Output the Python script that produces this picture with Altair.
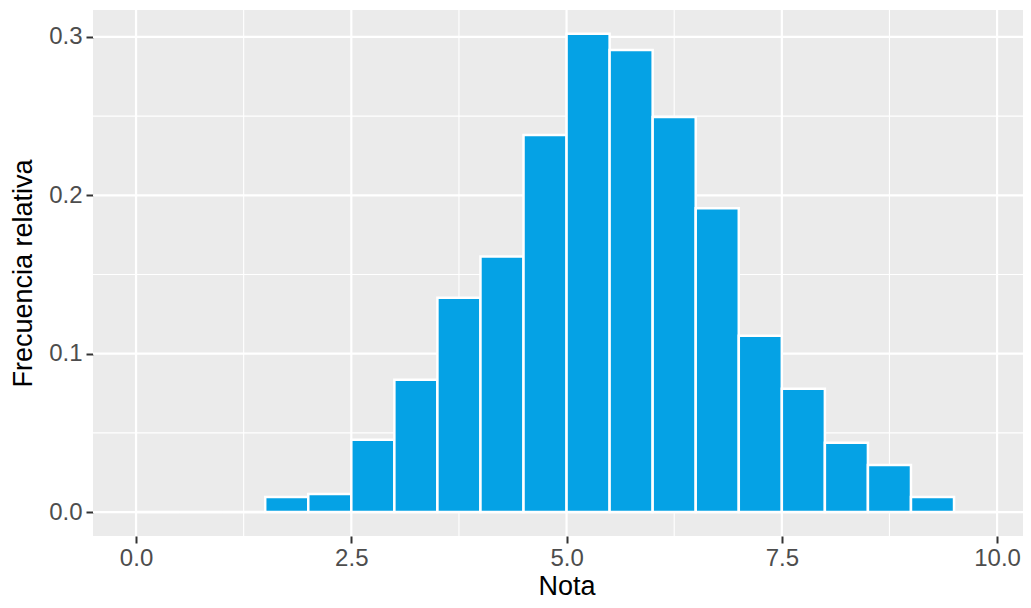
import altair as alt
import pandas as pd

# Histogram bins (width 0.5) and relative frequencies
bin_start = [0.0, 0.5, 1.0, 1.5, 2.0, 2.5, 3.0, 3.5, 4.0, 4.5, 5.0, 5.5, 6.0, 6.5, 7.0, 7.5, 8.0, 8.5, 9.0, 9.5]
bin_end = [0.5, 1.0, 1.5, 2.0, 2.5, 3.0, 3.5, 4.0, 4.5, 5.0, 5.5, 6.0, 6.5, 7.0, 7.5, 8.0, 8.5, 9.0, 9.5, 10.0]
freq = [0.0, 0.0, 0.0, 0.0095, 0.0114, 0.0456, 0.0835, 0.1354, 0.1614, 0.238, 0.302, 0.2918, 0.2494, 0.1918, 0.1114, 0.0778, 0.0437, 0.0297, 0.0095, 0.0]

x_major = [0.0, 2.5, 5.0, 7.5, 10.0]
x_minor = [1.25, 3.75, 6.25, 8.75]
y_major = [0.0, 0.1, 0.2, 0.3]
y_minor = [0.05, 0.15, 0.25]

df = pd.DataFrame({"start": bin_start, "end": bin_end, "freq": freq})

FONT = "Liberation Sans"
xscale = alt.Scale(domain=[-0.5, 10.301], nice=False, zero=False)
yscale = alt.Scale(domain=[-0.0151, 0.317], nice=False, zero=False)

def xaxis():
    return alt.Axis(values=x_major, format=".1f", grid=False, domain=False,
                    tickSize=7, tickWidth=2, tickColor="#333333",
                    labelFont=FONT, labelFontSize=24, labelColor="#4D4D4D", labelPadding=3,
                    title="Nota", titleFont=FONT, titleFontSize=27, titleFontWeight="normal",
                    titleColor="#000000", titleX=473.5, titleY=58, titleBaseline="alphabetic",
                    titleAlign="center", titleAnchor="start")

def yaxis():
    return alt.Axis(values=y_major, format=".1f", grid=False, domain=False,
                    tickSize=7, tickWidth=2, tickColor="#333333",
                    labelFont=FONT, labelFontSize=24, labelColor="#4D4D4D", labelPadding=4,
                    title="Frecuencia relativa", titleFont=FONT, titleFontSize=27, titleFontWeight="normal",
                    titleColor="#000000", titleX=-62, titleY=263, titleAngle=270,
                    titleBaseline="alphabetic", titleAlign="center", titleAnchor="start")

vminor = alt.Chart(pd.DataFrame({"v": x_minor})).mark_rule(color="white", strokeWidth=1.1).encode(
    x=alt.X("v:Q", scale=xscale, axis=xaxis()))
vmajor = alt.Chart(pd.DataFrame({"v": x_major})).mark_rule(color="white", strokeWidth=2.2).encode(
    x=alt.X("v:Q", scale=xscale, axis=xaxis()))
hminor = alt.Chart(pd.DataFrame({"v": y_minor})).mark_rule(color="white", strokeWidth=1.1).encode(
    y=alt.Y("v:Q", scale=yscale, axis=yaxis()))
hmajor = alt.Chart(pd.DataFrame({"v": y_major})).mark_rule(color="white", strokeWidth=2.2).encode(
    y=alt.Y("v:Q", scale=yscale, axis=yaxis()))

bars = alt.Chart(df).mark_rect(color="#05A2E5", stroke="white", strokeWidth=2.5).encode(
    x=alt.X("start:Q", scale=xscale, axis=xaxis()),
    x2="end:Q",
    y=alt.Y("freq:Q", scale=yscale, axis=yaxis()),
    y2=alt.datum(0),
)

chart = alt.layer(vminor, vmajor, hminor, hmajor, bars).properties(
    width=930, height=526,
    background="white",
    autosize=alt.AutoSizeParams(type="none"),
    padding={"left": 85, "top": 2, "right": 0, "bottom": 64},
).configure_view(fill="#EBEBEB", strokeWidth=0)

chart.save("out.html", embed_options={"renderer": "svg", "actions": False})
